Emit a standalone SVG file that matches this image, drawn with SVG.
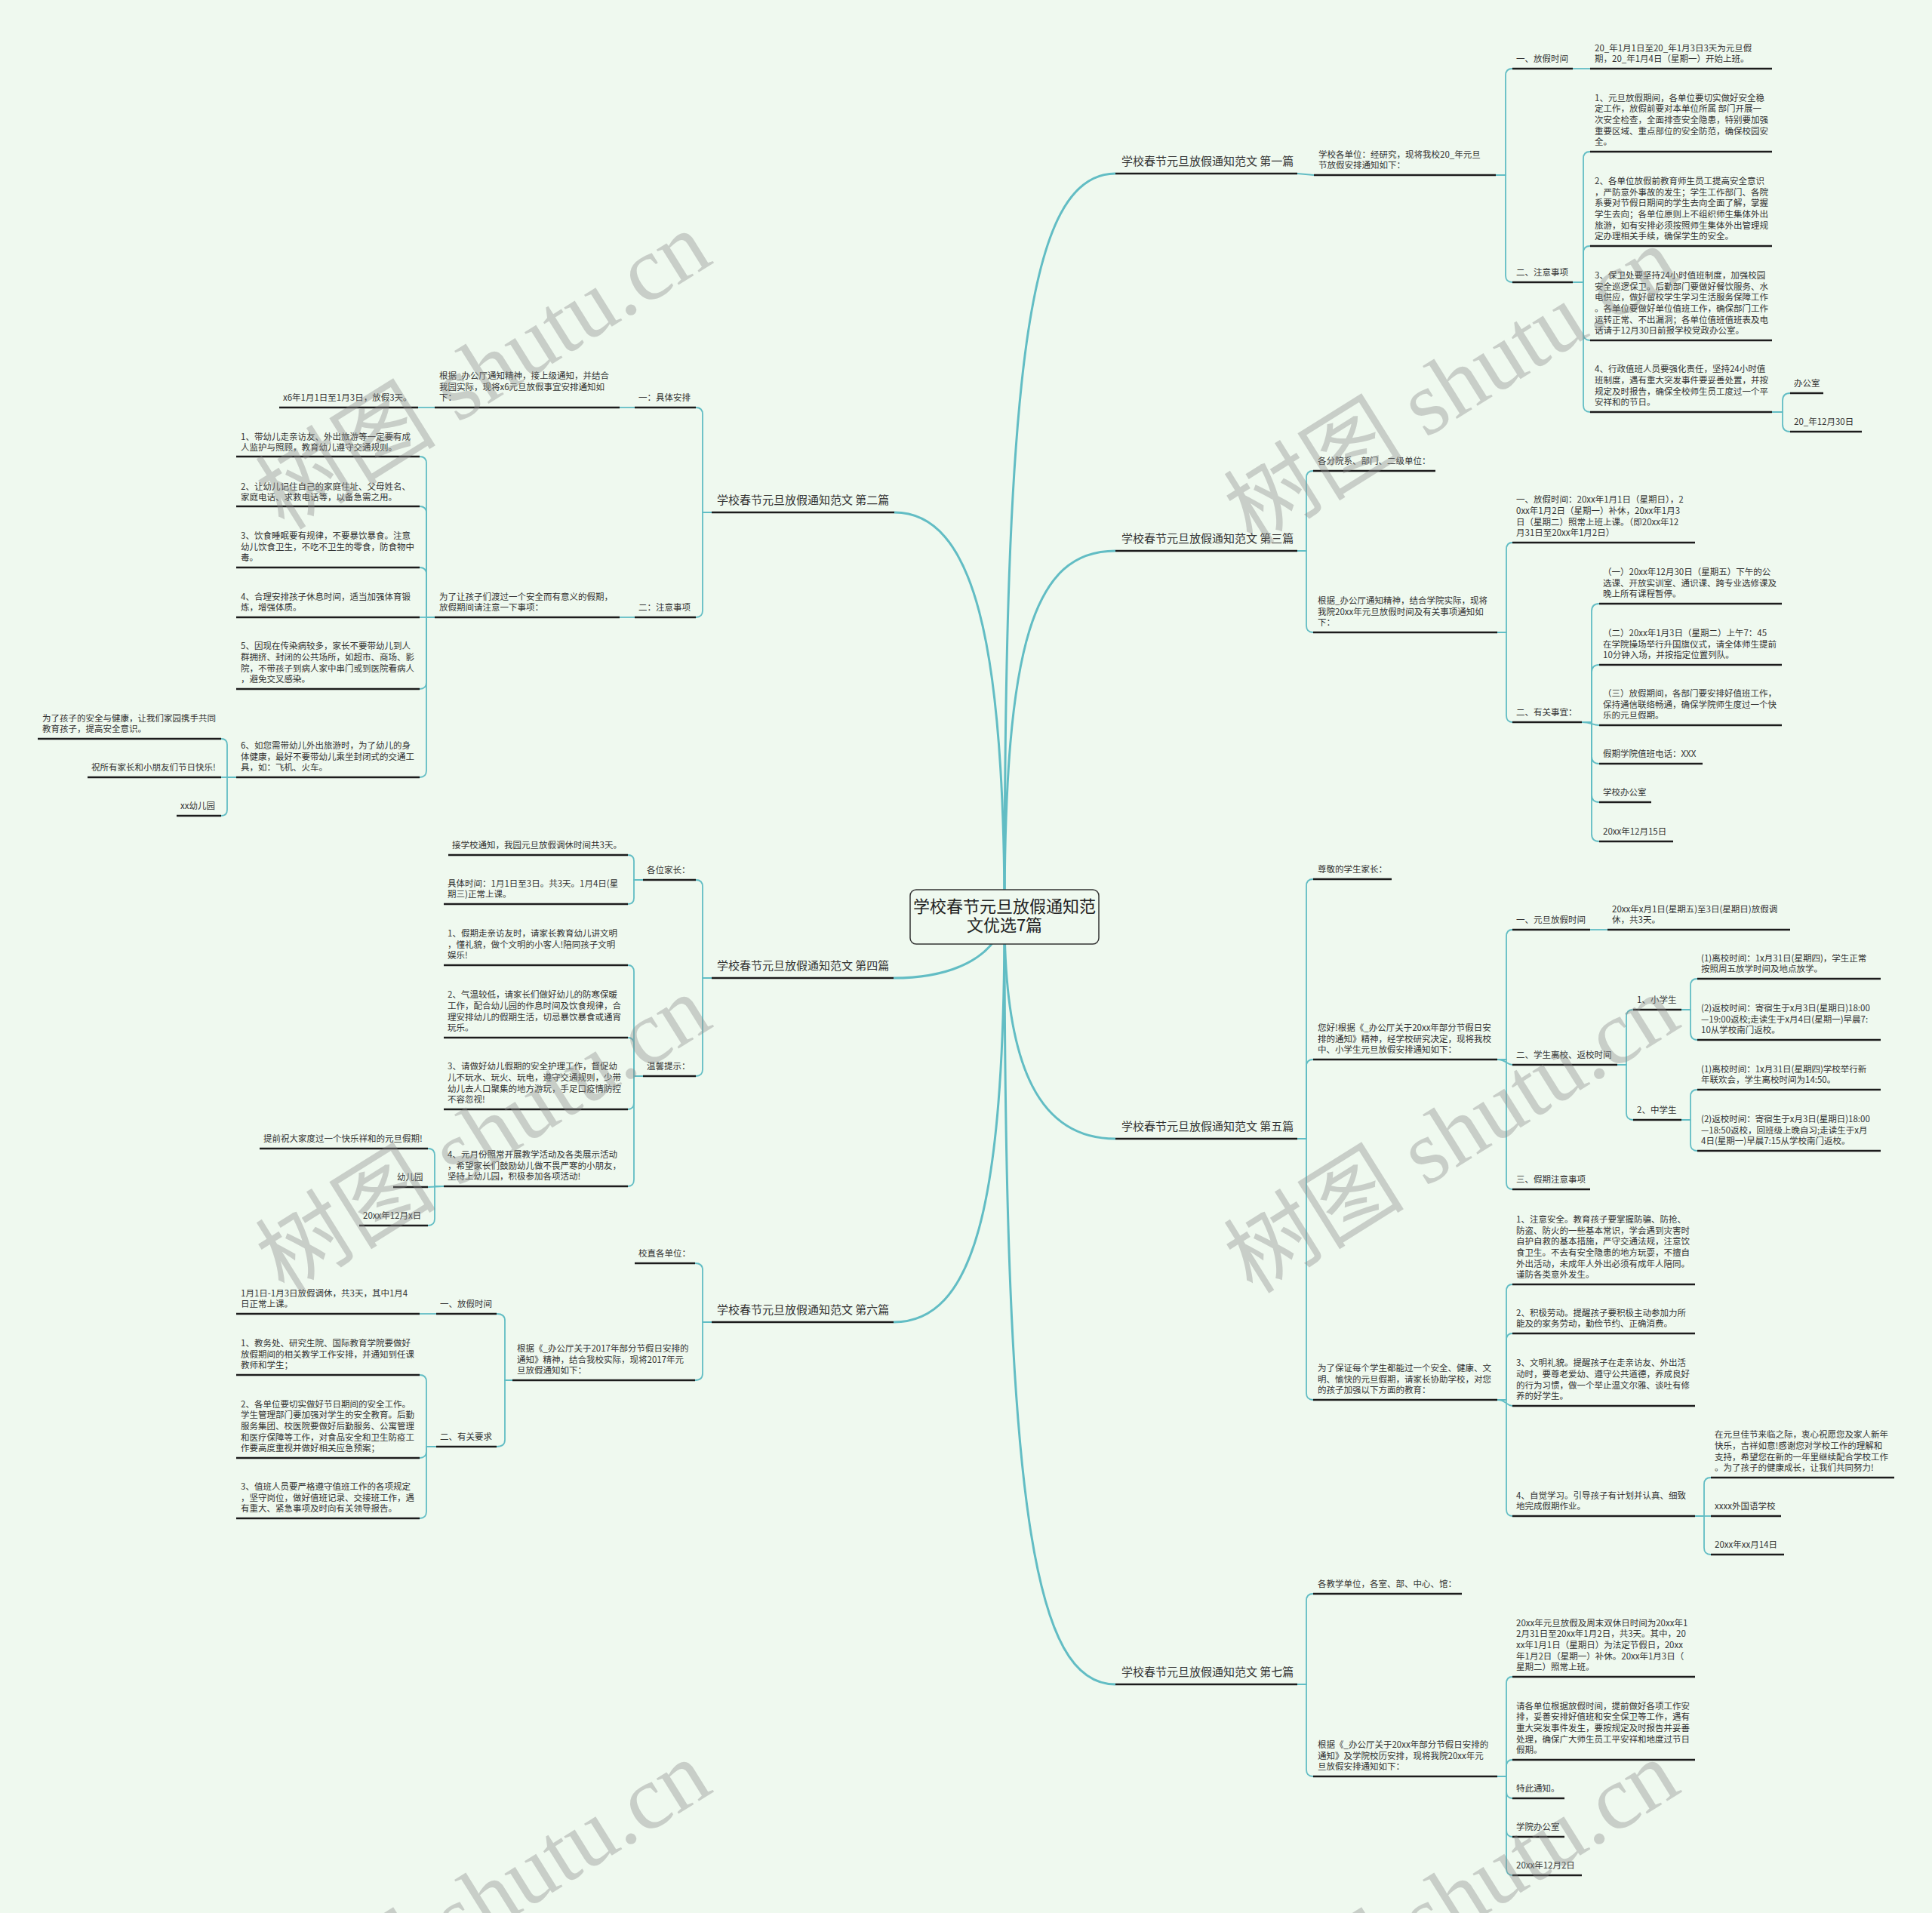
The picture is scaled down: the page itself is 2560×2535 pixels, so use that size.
<svg xmlns="http://www.w3.org/2000/svg" width="2560" height="2535" viewBox="0 0 2560 2535">
<style>
.t{font-family:"Noto Sans CJK SC","Noto Sans",sans-serif;font-size:11.5px;fill:#333}
.l1{font-size:15px}
.rt{font-size:22px;fill:#222}
.u{stroke:#1c1c1c;stroke-width:2.5}
.c{fill:none;stroke:#62bdc4;stroke-width:1.8}
.rc{fill:none;stroke:#62bdc4;stroke-width:3}
.wm{font-family:"Liberation Serif","Noto Sans CJK SC",serif;font-size:120px;fill:#8a8a8a;opacity:0.38}
</style>
<rect width="2560" height="2535" fill="#eff9ef"/>
<g id="connectors">
<path class="rc" d="M1331 1215 C1331 500 1360 230 1478 230"/>
<path class="rc" d="M1331 1215 C1331 850 1370 730 1478 730"/>
<path class="rc" d="M1331 1215 C1331 1420 1380 1509 1478 1509"/>
<path class="rc" d="M1331 1215 C1331 2000 1370 2232 1478 2232"/>
<path class="rc" d="M1331 1215 C1331 850 1290 679 1185 679"/>
<path class="rc" d="M1331 1215 C1320 1270 1260 1296 1184 1296"/>
<path class="rc" d="M1331 1215 C1331 1600 1290 1752 1184 1752"/>
<path class="c" d="M1719 230 L1741 232"/>
<path class="c" d="M1982 232 H1995 V100 Q1995 91 2004 91"/>
<path class="c" d="M1982 232 H1995 V365 Q1995 374 2004 374"/>
<path class="c" d="M2084 91 L2107 91"/>
<path class="c" d="M2084 374 H2098 V210 Q2098 201 2107 201"/>
<path class="c" d="M2084 374 H2098 V335 Q2098 326 2107 326"/>
<path class="c" d="M2084 374 H2098 V442 Q2098 451 2107 451"/>
<path class="c" d="M2084 374 H2098 V537 Q2098 546 2107 546"/>
<path class="c" d="M2348 546 H2362 V531 Q2362 521 2372 521"/>
<path class="c" d="M2348 546 H2362 V562 Q2362 572 2372 572"/>
<path class="c" d="M1719 730 H1731 V633 Q1731 624 1740 624"/>
<path class="c" d="M1719 730 H1731 V829 Q1731 838 1740 838"/>
<path class="c" d="M1984 838 H1996 V728 Q1996 719 2004 719"/>
<path class="c" d="M1984 838 H1996 V948 Q1996 957 2004 957"/>
<path class="c" d="M2096 957 H2109 V810 Q2109 800 2119 800"/>
<path class="c" d="M2096 957 H2109 V891 Q2109 881 2119 881"/>
<path class="c" d="M2096 957 C2109 957 2109 961 2119 961"/>
<path class="c" d="M2096 957 H2109 V1002 Q2109 1012 2119 1012"/>
<path class="c" d="M2096 957 H2109 V1053 Q2109 1063 2119 1063"/>
<path class="c" d="M2096 957 H2109 V1105 Q2109 1115 2119 1115"/>
<path class="c" d="M1719 1509 H1731 V1174 Q1731 1165 1740 1165"/>
<path class="c" d="M1719 1509 H1731 V1413 Q1731 1404 1740 1404"/>
<path class="c" d="M1719 1509 H1731 V1846 Q1731 1855 1740 1855"/>
<path class="c" d="M1984 1404 H1996 V1241 Q1996 1232 2004 1232"/>
<path class="c" d="M1984 1404 C1996 1404 1996 1411 2004 1411"/>
<path class="c" d="M1984 1404 H1996 V1567 Q1996 1576 2004 1576"/>
<path class="c" d="M2107 1232 L2130 1232"/>
<path class="c" d="M2143 1411 H2155 V1347 Q2155 1338 2164 1338"/>
<path class="c" d="M2143 1411 H2155 V1475 Q2155 1484 2164 1484"/>
<path class="c" d="M2228 1338 H2240 V1306 Q2240 1297 2249 1297"/>
<path class="c" d="M2228 1338 H2240 V1368 Q2240 1378 2249 1378"/>
<path class="c" d="M2228 1484 H2240 V1453 Q2240 1444 2249 1444"/>
<path class="c" d="M2228 1484 H2240 V1516 Q2240 1525 2249 1525"/>
<path class="c" d="M1984 1855 H1996 V1711 Q1996 1702 2004 1702"/>
<path class="c" d="M1984 1855 H1996 V1776 Q1996 1767 2004 1767"/>
<path class="c" d="M1984 1855 C1996 1855 1996 1863 2004 1863"/>
<path class="c" d="M1984 1855 H1996 V2000 Q1996 2009 2004 2009"/>
<path class="c" d="M2246 2009 H2258 V1967 Q2258 1958 2267 1958"/>
<path class="c" d="M2246 2009 L2267 2009"/>
<path class="c" d="M2246 2009 H2258 V2051 Q2258 2060 2267 2060"/>
<path class="c" d="M1719 2232 H1731 V2121 Q1731 2112 1740 2112"/>
<path class="c" d="M1719 2232 H1731 V2345 Q1731 2354 1740 2354"/>
<path class="c" d="M1984 2354 H1996 V2231 Q1996 2222 2004 2222"/>
<path class="c" d="M1984 2354 H1996 V2341 Q1996 2332 2004 2332"/>
<path class="c" d="M1984 2354 H1996 V2374 Q1996 2383 2004 2383"/>
<path class="c" d="M1984 2354 H1996 V2425 Q1996 2434 2004 2434"/>
<path class="c" d="M1984 2354 H1996 V2476 Q1996 2485 2004 2485"/>
<path class="c" d="M943 679 H931 V549 Q931 540 922 540"/>
<path class="c" d="M943 679 H931 V809 Q931 818 922 818"/>
<path class="c" d="M841 540 L821 540"/>
<path class="c" d="M576 540 L554 540"/>
<path class="c" d="M841 818 L821 818"/>
<path class="c" d="M576 818 H565 V614 Q565 605 556 605"/>
<path class="c" d="M576 818 H565 V680 Q565 671 556 671"/>
<path class="c" d="M576 818 H565 V761 Q565 752 556 752"/>
<path class="c" d="M576 818 L556 818"/>
<path class="c" d="M576 818 H565 V904 Q565 913 556 913"/>
<path class="c" d="M576 818 H565 V1021 Q565 1030 556 1030"/>
<path class="c" d="M313 1030 H301 V987 Q301 979 293 979"/>
<path class="c" d="M313 1030 L293 1030"/>
<path class="c" d="M313 1030 H301 V1073 Q301 1081 293 1081"/>
<path class="c" d="M943 1296 H931 V1175 Q931 1166 922 1166"/>
<path class="c" d="M943 1296 H931 V1417 Q931 1426 922 1426"/>
<path class="c" d="M852 1166 H840 V1141 Q840 1133 832 1133"/>
<path class="c" d="M852 1166 H840 V1190 Q840 1198 832 1198"/>
<path class="c" d="M852 1426 H840 V1288 Q840 1279 832 1279"/>
<path class="c" d="M852 1426 H840 V1384 Q840 1375 832 1375"/>
<path class="c" d="M852 1426 H840 V1461 Q840 1470 832 1470"/>
<path class="c" d="M852 1426 H840 V1563 Q840 1572 832 1572"/>
<path class="c" d="M588 1572 H576 V1531 Q576 1522 567 1522"/>
<path class="c" d="M588 1572 L567 1573"/>
<path class="c" d="M588 1572 H576 V1615 Q576 1624 567 1624"/>
<path class="c" d="M943 1752 H931 V1683 Q931 1674 921 1674"/>
<path class="c" d="M943 1752 H931 V1820 Q931 1829 921 1829"/>
<path class="c" d="M679 1829 H669 V1750 Q669 1741 658 1741"/>
<path class="c" d="M679 1829 H669 V1908 Q669 1917 658 1917"/>
<path class="c" d="M578 1741 L556 1741"/>
<path class="c" d="M578 1917 H565 V1831 Q565 1822 556 1822"/>
<path class="c" d="M578 1917 H565 V1923 Q565 1932 556 1932"/>
<path class="c" d="M578 1917 H565 V2003 Q565 2012 556 2012"/>
</g>
<g id="root">
<rect x="1206" y="1179" width="250" height="72" rx="8" fill="#eff9ef" stroke="#333" stroke-width="1.5"/>
<text class="t rt" text-anchor="middle"><tspan x="1331" y="1209">学校春节元旦放假通知范</tspan><tspan x="1331" y="1234">文优选7篇</tspan></text>
</g>
<g id="n1"><text class="t l1" x="1486" y="219">学校春节元旦放假通知范文 第一篇</text><line class="u" x1="1478" y1="230" x2="1719" y2="230"/></g>
<g id="n3"><text class="t l1" x="1486" y="719">学校春节元旦放假通知范文 第三篇</text><line class="u" x1="1478" y1="730" x2="1719" y2="730"/></g>
<g id="n5"><text class="t l1" x="1486" y="1498">学校春节元旦放假通知范文 第五篇</text><line class="u" x1="1478" y1="1509" x2="1719" y2="1509"/></g>
<g id="n7"><text class="t l1" x="1486" y="2221">学校春节元旦放假通知范文 第七篇</text><line class="u" x1="1478" y1="2232" x2="1719" y2="2232"/></g>
<g id="n2"><text class="t l1" x="950" y="668">学校春节元旦放假通知范文 第二篇</text><line class="u" x1="943" y1="679" x2="1185" y2="679"/></g>
<g id="n4"><text class="t l1" x="950" y="1285">学校春节元旦放假通知范文 第四篇</text><line class="u" x1="943" y1="1296" x2="1184" y2="1296"/></g>
<g id="n6"><text class="t l1" x="950" y="1741">学校春节元旦放假通知范文 第六篇</text><line class="u" x1="943" y1="1752" x2="1184" y2="1752"/></g>

<g id="a1"><text class="t" x="1747" y="208.7">学校各单位：经研究，现将我校20_年元旦</text><text class="t" x="1747" y="223.4">节放假安排通知如下：</text><line class="u" x1="1741" y1="232" x2="1982" y2="232"/></g>
<g id="b1"><text class="t" x="2009" y="82.4">一、放假时间</text><line class="u" x1="2004" y1="91" x2="2084" y2="91"/></g>
<g id="c1"><text class="t" x="2113" y="67.7">20_年1月1日至20_年1月3日3天为元旦假</text><text class="t" x="2113" y="82.4">期，20_年1月4日（星期一）开始上班。</text><line class="u" x1="2107" y1="91" x2="2348" y2="91"/></g>
<g id="b2"><text class="t" x="2009" y="365.4">二、注意事项</text><line class="u" x1="2004" y1="374" x2="2084" y2="374"/></g>
<g id="c2"><text class="t" x="2113" y="133.6">1、元旦放假期间，各单位要切实做好安全稳</text><text class="t" x="2113" y="148.3">定工作，放假前要对本单位所属  部门开展一</text><text class="t" x="2113" y="163">次安全检查，全面排查安全隐患，特别要加强</text><text class="t" x="2113" y="177.7">重要区域、重点部位的安全防范，确保校园安</text><text class="t" x="2113" y="192.4">全。</text><line class="u" x1="2107" y1="201" x2="2348" y2="201"/></g>
<g id="c3"><text class="t" x="2113" y="243.9">2、各单位放假前教育师生员工提高安全意识</text><text class="t" x="2113" y="258.6">，严防意外事故的发生；学生工作部门、各院</text><text class="t" x="2113" y="273.3">系要对节假日期间的学生去向全面了解，掌握</text><text class="t" x="2113" y="288">学生去向；各单位原则上不组织师生集体外出</text><text class="t" x="2113" y="302.7">旅游，如有安排必须按照师生集体外出管理规</text><text class="t" x="2113" y="317.4">定办理相关手续，确保学生的安全。</text><line class="u" x1="2107" y1="326" x2="2348" y2="326"/></g>
<g id="c4"><text class="t" x="2113" y="368.9">3、保卫处要坚持24小时值班制度，加强校园</text><text class="t" x="2113" y="383.6">安全巡逻保卫。后勤部门要做好餐饮服务、水</text><text class="t" x="2113" y="398.3">电供应，做好留校学生学习生活服务保障工作</text><text class="t" x="2113" y="413">。各单位要做好单位值班工作，确保部门工作</text><text class="t" x="2113" y="427.7">运转正常、不出漏洞；各单位值班值班表及电</text><text class="t" x="2113" y="442.4">话请于12月30日前报学校党政办公室。</text><line class="u" x1="2107" y1="451" x2="2348" y2="451"/></g>
<g id="c5"><text class="t" x="2113" y="493.3">4、行政值班人员要强化责任，坚持24小时值</text><text class="t" x="2113" y="508">班制度，遇有重大突发事件要妥善处置，并按</text><text class="t" x="2113" y="522.7">规定及时报告，确保全校师生员工度过一个平</text><text class="t" x="2113" y="537.4">安祥和的节日。</text><line class="u" x1="2107" y1="546" x2="2348" y2="546"/></g>
<g id="d1"><text class="t" x="2377" y="512.4">办公室</text><line class="u" x1="2372" y1="521" x2="2416" y2="521"/></g>
<g id="d2"><text class="t" x="2377" y="563.4">20_年12月30日</text><line class="u" x1="2372" y1="572" x2="2467" y2="572"/></g>

<g id="e1"><text class="t" x="1746" y="615.4">各分院系、部门、二级单位：</text><line class="u" x1="1740" y1="624" x2="1902" y2="624"/></g>
<g id="e2"><text class="t" x="1746" y="800">根据_办公厅通知精神，结合学院实际，现将</text><text class="t" x="1746" y="814.7">我院20xx年元旦放假时间及有关事项通知如</text><text class="t" x="1746" y="829.4">下：</text><line class="u" x1="1740" y1="838" x2="1984" y2="838"/></g>
<g id="f1"><text class="t" x="2009" y="666.3">一、放假时间：20xx年1月1日（星期日），2</text><text class="t" x="2009" y="681">0xx年1月2日（星期一）补休，20xx年1月3</text><text class="t" x="2009" y="695.7">日（星期二）照常上班上课。（即20xx年12</text><text class="t" x="2009" y="710.4">月31日至20xx年1月2日）</text><line class="u" x1="2004" y1="719" x2="2246" y2="719"/></g>
<g id="f2"><text class="t" x="2009" y="948.4">二、有关事宜：</text><line class="u" x1="2004" y1="957" x2="2096" y2="957"/></g>
<g id="g1"><text class="t" x="2124" y="762">（一）20xx年12月30日（星期五）下午的公</text><text class="t" x="2124" y="776.7">选课、开放实训室、通识课、跨专业选修课及</text><text class="t" x="2124" y="791.4">晚上所有课程暂停。</text><line class="u" x1="2119" y1="800" x2="2361" y2="800"/></g>
<g id="g2"><text class="t" x="2124" y="843">（二）20xx年1月3日（星期二）上午7：45</text><text class="t" x="2124" y="857.7">在学院操场举行升国旗仪式，请全体师生提前</text><text class="t" x="2124" y="872.4">10分钟入场，并按指定位置列队。</text><line class="u" x1="2119" y1="881" x2="2361" y2="881"/></g>
<g id="g3"><text class="t" x="2124" y="923">（三）放假期间，各部门要安排好值班工作，</text><text class="t" x="2124" y="937.7">保持通信联络畅通，确保学院师生度过一个快</text><text class="t" x="2124" y="952.4">乐的元旦假期。</text><line class="u" x1="2119" y1="961" x2="2361" y2="961"/></g>
<g id="g4"><text class="t" x="2124" y="1003.4">假期学院值班电话：XXX</text><line class="u" x1="2119" y1="1012" x2="2256" y2="1012"/></g>
<g id="g5"><text class="t" x="2124" y="1054.4">学校办公室</text><line class="u" x1="2119" y1="1063" x2="2188" y2="1063"/></g>
<g id="g6"><text class="t" x="2124" y="1106.4">20xx年12月15日</text><line class="u" x1="2119" y1="1115" x2="2217" y2="1115"/></g>

<g id="h1"><text class="t" x="1746" y="1156.4">尊敬的学生家长：</text><line class="u" x1="1740" y1="1165" x2="1844" y2="1165"/></g>
<g id="h2"><text class="t" x="1746" y="1366">您好!根据《_办公厅关于20xx年部分节假日安</text><text class="t" x="1746" y="1380.7">排的通知》精神，经学校研究决定，现将我校</text><text class="t" x="1746" y="1395.4">中、小学生元旦放假安排通知如下：</text><line class="u" x1="1740" y1="1404" x2="1984" y2="1404"/></g>
<g id="i1"><text class="t" x="2009" y="1223.4">一、元旦放假时间</text><line class="u" x1="2004" y1="1232" x2="2107" y2="1232"/></g>
<g id="j1"><text class="t" x="2136" y="1208.7">20xx年x月1日(星期五)至3日(星期日)放假调</text><text class="t" x="2136" y="1223.4">休，共3天。</text><line class="u" x1="2130" y1="1232" x2="2372" y2="1232"/></g>
<g id="i2"><text class="t" x="2009" y="1402.4">二、学生离校、返校时间</text><line class="u" x1="2004" y1="1411" x2="2143" y2="1411"/></g>
<g id="k1"><text class="t" x="2169" y="1329.4">1、小学生</text><line class="u" x1="2164" y1="1338" x2="2228" y2="1338"/></g>
<g id="l1"><text class="t" x="2254" y="1273.7">(1)离校时间：1x月31日(星期四)，学生正常</text><text class="t" x="2254" y="1288.4">按照周五放学时间及地点放学。</text><line class="u" x1="2249" y1="1297" x2="2492" y2="1297"/></g>
<g id="l2"><text class="t" x="2254" y="1340">(2)返校时间：寄宿生于x月3日(星期日)18:00</text><text class="t" x="2254" y="1354.7">—19:00返校;走读生于x月4日(星期一)早晨7:</text><text class="t" x="2254" y="1369.4">10从学校南门返校。</text><line class="u" x1="2249" y1="1378" x2="2492" y2="1378"/></g>
<g id="k2"><text class="t" x="2169" y="1475.4">2、中学生</text><line class="u" x1="2164" y1="1484" x2="2228" y2="1484"/></g>
<g id="l3"><text class="t" x="2254" y="1420.7">(1)离校时间：1x月31日(星期四)学校举行新</text><text class="t" x="2254" y="1435.4">年联欢会，学生离校时间为14:50。</text><line class="u" x1="2249" y1="1444" x2="2492" y2="1444"/></g>
<g id="l4"><text class="t" x="2254" y="1487">(2)返校时间：寄宿生于x月3日(星期日)18:00</text><text class="t" x="2254" y="1501.7">—18:50返校，回班级上晚自习;走读生于x月</text><text class="t" x="2254" y="1516.4">4日(星期一)早晨7:15从学校南门返校。</text><line class="u" x1="2249" y1="1525" x2="2492" y2="1525"/></g>
<g id="i3"><text class="t" x="2009" y="1567.4">三、假期注意事项</text><line class="u" x1="2004" y1="1576" x2="2107" y2="1576"/></g>
<g id="h3"><text class="t" x="1746" y="1817">为了保证每个学生都能过一个安全、健康、文</text><text class="t" x="1746" y="1831.7">明、愉快的元旦假期，请家长协助学校，对您</text><text class="t" x="1746" y="1846.4">的孩子加强以下方面的教育：</text><line class="u" x1="1740" y1="1855" x2="1984" y2="1855"/></g>
<g id="m1"><text class="t" x="2009" y="1619.9">1、注意安全。教育孩子要掌握防骗、防抢、</text><text class="t" x="2009" y="1634.6">防盗、防火的一些基本常识，学会遇到灾害时</text><text class="t" x="2009" y="1649.3">自护自救的基本措施，严守交通法规，注意饮</text><text class="t" x="2009" y="1664">食卫生。不去有安全隐患的地方玩耍，不擅自</text><text class="t" x="2009" y="1678.7">外出活动，未成年人外出必须有成年人陪同。</text><text class="t" x="2009" y="1693.4">谨防各类意外发生。</text><line class="u" x1="2004" y1="1702" x2="2246" y2="1702"/></g>
<g id="m2"><text class="t" x="2009" y="1743.7">2、积极劳动。提醒孩子要积极主动参加力所</text><text class="t" x="2009" y="1758.4">能及的家务劳动，勤俭节约、正确消费。</text><line class="u" x1="2004" y1="1767" x2="2246" y2="1767"/></g>
<g id="m3"><text class="t" x="2009" y="1810.3">3、文明礼貌。提醒孩子在走亲访友、外出活</text><text class="t" x="2009" y="1825">动时，要尊老爱幼、遵守公共道德，养成良好</text><text class="t" x="2009" y="1839.7">的行为习惯，做一个举止温文尔雅、谈吐有修</text><text class="t" x="2009" y="1854.4">养的好学生。</text><line class="u" x1="2004" y1="1863" x2="2246" y2="1863"/></g>
<g id="m4"><text class="t" x="2009" y="1985.7">4、自觉学习。引导孩子有计划并认真、细致</text><text class="t" x="2009" y="2000.4">地完成假期作业。</text><line class="u" x1="2004" y1="2009" x2="2246" y2="2009"/></g>
<g id="n1b"><text class="t" x="2272" y="1905.3">在元旦佳节来临之际，衷心祝愿您及家人新年</text><text class="t" x="2272" y="1920">快乐，吉祥如意!感谢您对学校工作的理解和</text><text class="t" x="2272" y="1934.7">支持，希望您在新的一年里继续配合学校工作</text><text class="t" x="2272" y="1949.4">。为了孩子的健康成长，让我们共同努力!</text><line class="u" x1="2267" y1="1958" x2="2510" y2="1958"/></g>
<g id="n2b"><text class="t" x="2272" y="2000.4">xxxx外国语学校</text><line class="u" x1="2267" y1="2009" x2="2360" y2="2009"/></g>
<g id="n3b"><text class="t" x="2272" y="2051.4">20xx年xx月14日</text><line class="u" x1="2267" y1="2060" x2="2364" y2="2060"/></g>

<g id="o1"><text class="t" x="1746" y="2103.4">各教学单位，各室、部、中心、馆：</text><line class="u" x1="1740" y1="2112" x2="1937" y2="2112"/></g>
<g id="o2"><text class="t" x="1746" y="2316">根据《_办公厅关于20xx年部分节假日安排的</text><text class="t" x="1746" y="2330.7">通知》及学院校历安排，现将我院20xx年元</text><text class="t" x="1746" y="2345.4">旦放假安排通知如下：</text><line class="u" x1="1740" y1="2354" x2="1984" y2="2354"/></g>
<g id="p1"><text class="t" x="2009" y="2154.6">20xx年元旦放假及周末双休日时间为20xx年1</text><text class="t" x="2009" y="2169.3">2月31日至20xx年1月2日，共3天。其中，20</text><text class="t" x="2009" y="2184">xx年1月1日（星期日）为法定节假日，20xx</text><text class="t" x="2009" y="2198.7">年1月2日（星期一）补休。20xx年1月3日（</text><text class="t" x="2009" y="2213.4">星期二）照常上班。</text><line class="u" x1="2004" y1="2222" x2="2246" y2="2222"/></g>
<g id="p2"><text class="t" x="2009" y="2264.6">请各单位根据放假时间，提前做好各项工作安</text><text class="t" x="2009" y="2279.3">排，妥善安排好值班和安全保卫等工作，遇有</text><text class="t" x="2009" y="2294">重大突发事件发生，要按规定及时报告并妥善</text><text class="t" x="2009" y="2308.7">处理，确保广大师生员工平安祥和地度过节日</text><text class="t" x="2009" y="2323.4">假期。</text><line class="u" x1="2004" y1="2332" x2="2246" y2="2332"/></g>
<g id="p3"><text class="t" x="2009" y="2374.4">特此通知。</text><line class="u" x1="2004" y1="2383" x2="2073" y2="2383"/></g>
<g id="p4"><text class="t" x="2009" y="2425.4">学院办公室</text><line class="u" x1="2004" y1="2434" x2="2073" y2="2434"/></g>
<g id="p5"><text class="t" x="2009" y="2476.4">20xx年12月2日</text><line class="u" x1="2004" y1="2485" x2="2096" y2="2485"/></g>

<g id="q1"><text class="t" x="846" y="531.4">一：具体安排</text><line class="u" x1="841" y1="540" x2="922" y2="540"/></g>
<g id="r1"><text class="t" x="582" y="502">根据_办公厅通知精神，接上级通知，并结合</text><text class="t" x="582" y="516.7">我园实际，现将x6元旦放假事宜安排通知如</text><text class="t" x="582" y="531.4">下：</text><line class="u" x1="576" y1="540" x2="821" y2="540"/></g>
<g id="s1"><text class="t" x="375" y="531.4">x6年1月1日至1月3日，放假3天。</text><line class="u" x1="370" y1="540" x2="554" y2="540"/></g>
<g id="q2"><text class="t" x="846" y="809.4">二：注意事项</text><line class="u" x1="841" y1="818" x2="922" y2="818"/></g>
<g id="r2"><text class="t" x="582" y="794.7">为了让孩子们渡过一个安全而有意义的假期，</text><text class="t" x="582" y="809.4">放假期间请注意一下事项：</text><line class="u" x1="576" y1="818" x2="821" y2="818"/></g>
<g id="t1"><text class="t" x="319" y="582.7">1、带幼儿走亲访友、外出旅游等一定要有成</text><text class="t" x="319" y="597.4">人监护与照顾，教育幼儿遵守交通规则。</text><line class="u" x1="313" y1="605" x2="556" y2="605"/></g>
<g id="t2"><text class="t" x="319" y="648.7">2、让幼儿记住自己的家庭住址、父母姓名、</text><text class="t" x="319" y="663.4">家庭电话、求救电话等，以备急需之用。</text><line class="u" x1="313" y1="671" x2="556" y2="671"/></g>
<g id="t3"><text class="t" x="319" y="714">3、饮食睡眠要有规律，不要暴饮暴食。注意</text><text class="t" x="319" y="728.7">幼儿饮食卫生，不吃不卫生的零食，防食物中</text><text class="t" x="319" y="743.4">毒。</text><line class="u" x1="313" y1="752" x2="556" y2="752"/></g>
<g id="t4"><text class="t" x="319" y="794.7">4、合理安排孩子休息时间，适当加强体育锻</text><text class="t" x="319" y="809.4">炼，增强体质。</text><line class="u" x1="313" y1="818" x2="556" y2="818"/></g>
<g id="t5"><text class="t" x="319" y="860.3">5、因现在传染病较多，家长不要带幼儿到人</text><text class="t" x="319" y="875">群拥挤、封闭的公共场所，如超市、商场、影</text><text class="t" x="319" y="889.7">院，不带孩子到病人家中串门或到医院看病人</text><text class="t" x="319" y="904.4">，避免交叉感染。</text><line class="u" x1="313" y1="913" x2="556" y2="913"/></g>
<g id="t6"><text class="t" x="319" y="992">6、如您需带幼儿外出旅游时，为了幼儿的身</text><text class="t" x="319" y="1006.7">体健康，最好不要带幼儿乘坐封闭式的交通工</text><text class="t" x="319" y="1021.4">具，如：飞机、火车。</text><line class="u" x1="313" y1="1030" x2="556" y2="1030"/></g>
<g id="u1"><text class="t" x="56" y="955.7">为了孩子的安全与健康，让我们家园携手共同</text><text class="t" x="56" y="970.4">教育孩子，提高安全意识。</text><line class="u" x1="50" y1="979" x2="293" y2="979"/></g>
<g id="u2"><text class="t" x="121" y="1021.4">祝所有家长和小朋友们节日快乐!</text><line class="u" x1="116" y1="1030" x2="293" y2="1030"/></g>
<g id="u3"><text class="t" x="239" y="1072.4">xx幼儿园</text><line class="u" x1="234" y1="1081" x2="293" y2="1081"/></g>

<g id="v1"><text class="t" x="857" y="1157.4">各位家长：</text><line class="u" x1="852" y1="1166" x2="922" y2="1166"/></g>
<g id="w1"><text class="t" x="599" y="1124.4">接学校通知，我园元旦放假调休时间共3天。</text><line class="u" x1="594" y1="1133" x2="832" y2="1133"/></g>
<g id="w2"><text class="t" x="593" y="1174.7">具体时间：1月1日至3日。共3天。1月4日(星</text><text class="t" x="593" y="1189.4">期三)正常上课。</text><line class="u" x1="588" y1="1198" x2="832" y2="1198"/></g>
<g id="v2"><text class="t" x="857" y="1417.4">温馨提示：</text><line class="u" x1="852" y1="1426" x2="922" y2="1426"/></g>
<g id="w3"><text class="t" x="593" y="1241">1、假期走亲访友时，请家长教育幼儿讲文明</text><text class="t" x="593" y="1255.7">，懂礼貌，做个文明的小客人!陪同孩子文明</text><text class="t" x="593" y="1270.4">娱乐!</text><line class="u" x1="588" y1="1279" x2="832" y2="1279"/></g>
<g id="w4"><text class="t" x="593" y="1322.3">2、气温较低，请家长们做好幼儿的防寒保暖</text><text class="t" x="593" y="1337">工作，配合幼儿园的作息时间及饮食规律，合</text><text class="t" x="593" y="1351.7">理安排幼儿的假期生活，切忌暴饮暴食或通宵</text><text class="t" x="593" y="1366.4">玩乐。</text><line class="u" x1="588" y1="1375" x2="832" y2="1375"/></g>
<g id="w5"><text class="t" x="593" y="1417.3">3、请做好幼儿假期的安全护理工作，督促幼</text><text class="t" x="593" y="1432">儿不玩水、玩火、玩电，遵守交通规则，少带</text><text class="t" x="593" y="1446.7">幼儿去人口聚集的地方游玩，手足口疫情防控</text><text class="t" x="593" y="1461.4">不容忽视!</text><line class="u" x1="588" y1="1470" x2="832" y2="1470"/></g>
<g id="w6"><text class="t" x="593" y="1534">4、元月份照常开展教学活动及各类展示活动</text><text class="t" x="593" y="1548.7">，希望家长们鼓励幼儿做不畏严寒的小朋友，</text><text class="t" x="593" y="1563.4">坚持上幼儿园，积极参加各项活动!</text><line class="u" x1="588" y1="1572" x2="832" y2="1572"/></g>
<g id="x1"><text class="t" x="349" y="1513.4">提前祝大家度过一个快乐祥和的元旦假期!</text><line class="u" x1="344" y1="1522" x2="567" y2="1522"/></g>
<g id="x2"><text class="t" x="526" y="1564.4">幼儿园</text><line class="u" x1="521" y1="1573" x2="567" y2="1573"/></g>
<g id="x3"><text class="t" x="481" y="1615.4">20xx年12月x日</text><line class="u" x1="476" y1="1624" x2="567" y2="1624"/></g>

<g id="y1"><text class="t" x="846" y="1665.4">校直各单位：</text><line class="u" x1="841" y1="1674" x2="921" y2="1674"/></g>
<g id="y2"><text class="t" x="685" y="1791">根据《_办公厅关于2017年部分节假日安排的</text><text class="t" x="685" y="1805.7">通知》精神，结合我校实际，现将2017年元</text><text class="t" x="685" y="1820.4">旦放假通知如下：</text><line class="u" x1="679" y1="1829" x2="921" y2="1829"/></g>
<g id="z1"><text class="t" x="583" y="1732.4">一、放假时间</text><line class="u" x1="578" y1="1741" x2="658" y2="1741"/></g>
<g id="aa1"><text class="t" x="319" y="1717.7">1月1日-1月3日放假调休，共3天，其中1月4</text><text class="t" x="319" y="1732.4">日正常上课。</text><line class="u" x1="313" y1="1741" x2="556" y2="1741"/></g>
<g id="z2"><text class="t" x="583" y="1908.4">二、有关要求</text><line class="u" x1="578" y1="1917" x2="658" y2="1917"/></g>
<g id="ab1"><text class="t" x="319" y="1784">1、教务处、研究生院、国际教育学院要做好</text><text class="t" x="319" y="1798.7">放假期间的相关教学工作安排，并通知到任课</text><text class="t" x="319" y="1813.4">教师和学生；</text><line class="u" x1="313" y1="1822" x2="556" y2="1822"/></g>
<g id="ab2"><text class="t" x="319" y="1864.6">2、各单位要切实做好节日期间的安全工作。</text><text class="t" x="319" y="1879.3">学生管理部门要加强对学生的安全教育。后勤</text><text class="t" x="319" y="1894">服务集团、校医院要做好后勤服务、公寓管理</text><text class="t" x="319" y="1908.7">和医疗保障等工作，对食品安全和卫生防疫工</text><text class="t" x="319" y="1923.4">作要高度重视并做好相关应急预案；</text><line class="u" x1="313" y1="1932" x2="556" y2="1932"/></g>
<g id="ab3"><text class="t" x="319" y="1974">3、值班人员要严格遵守值班工作的各项规定</text><text class="t" x="319" y="1988.7">，坚守岗位，做好值班记录、交接班工作，遇</text><text class="t" x="319" y="2003.4">有重大、紧急事项及时向有关领导报告。</text><line class="u" x1="313" y1="2012" x2="556" y2="2012"/></g>

<g id="watermark">
<text class="wm" transform="translate(640 490) rotate(-32)" x="0" y="42" text-anchor="middle">树图 shutu.cn</text>
<text class="wm" transform="translate(1923 510) rotate(-32)" x="0" y="42" text-anchor="middle">树图 shutu.cn</text>
<text class="wm" transform="translate(640 1502) rotate(-32)" x="0" y="42" text-anchor="middle">树图 shutu.cn</text>
<text class="wm" transform="translate(1923 1502) rotate(-32)" x="0" y="42" text-anchor="middle">树图 shutu.cn</text>
<text class="wm" transform="translate(640 2516) rotate(-32)" x="0" y="42" text-anchor="middle">树图 shutu.cn</text>
<text class="wm" transform="translate(1923 2516) rotate(-32)" x="0" y="42" text-anchor="middle">树图 shutu.cn</text>
</g>
</svg>
